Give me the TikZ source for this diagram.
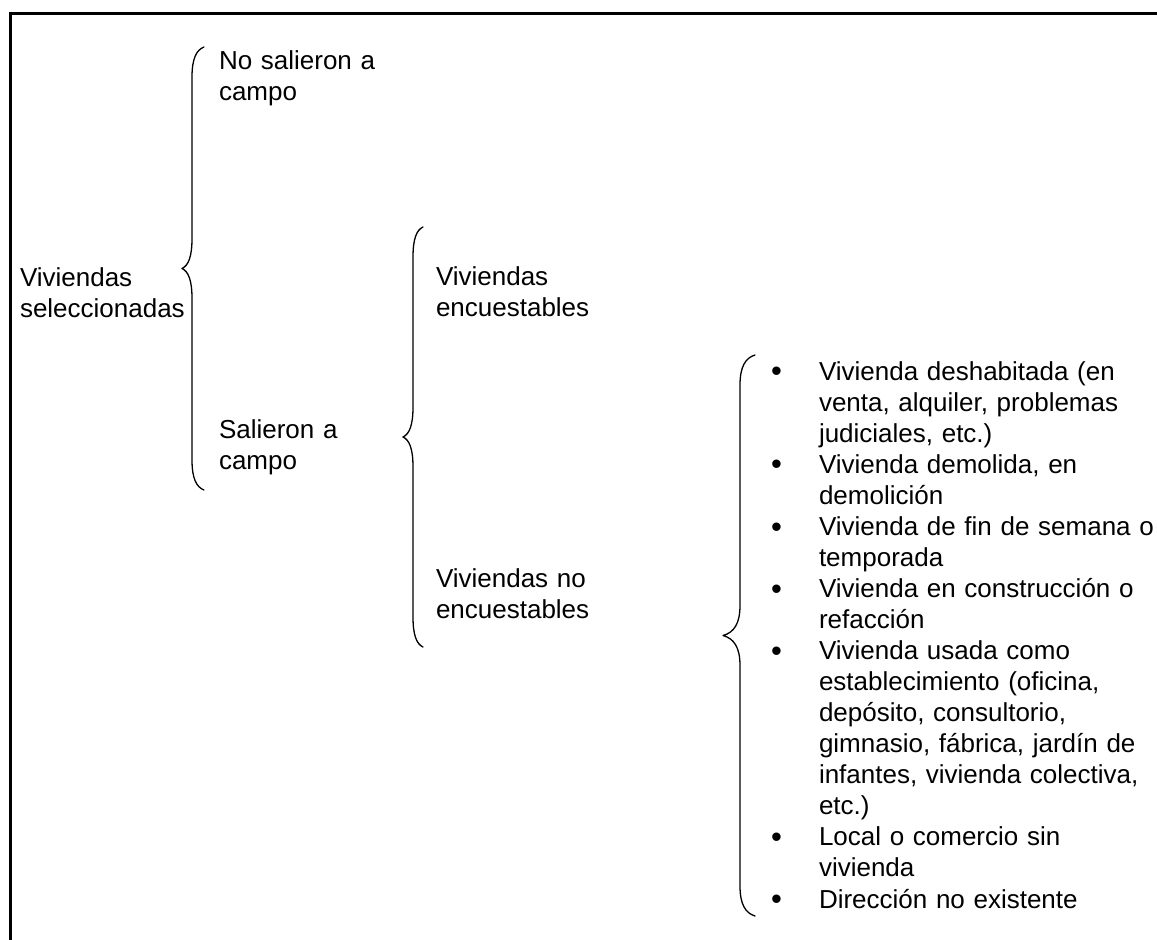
\documentclass[tikz,border=0pt]{standalone}
\usepackage{fontspec}
\setmainfont{Liberation Sans}
\newcommand\mybul{\leavevmode\llap{\makebox[48pt][l]{\raisebox{-1.8pt}{\fontsize{31}{31}\selectfont •}}}}
% #1 x of ends, #2 x of vertical stroke, #3 x of cusp, #4 y top, #5 y bottom
\newcommand\mybrace[5]{%
  \pgfmathsetmacro\bym{(#4+#5)/2}%
  \pgfmathsetmacro\bxa{#2+0.35*(#1-#2)}%
  \pgfmathsetmacro\bxb{#2-0.35*(#2-#3)}%
  \draw[bracestyle] (#1,#4) .. controls (\bxa,#4+3) and (#2,#4+12) .. (#2,#4+30)
    -- (#2,\bym-30) .. controls (#2,\bym-12) and (\bxb,\bym-3) .. (#3,\bym)
    .. controls (\bxb,\bym+3) and (#2,\bym+12) .. (#2,\bym+30)
    -- (#2,#5-30) .. controls (#2,#5-12) and (\bxa,#5-3) .. (#1,#5);%
}
\begin{document}
\begin{tikzpicture}[x=1pt,y=-1pt,
  txt/.style={inner sep=0pt, outer sep=0pt, anchor=base west, align=left,
    text width=#1, font=\fontsize{26}{31.06}\selectfont},
  bracestyle/.style={line width=1.3pt, line cap=round, line join=round},
  frame/.style={line width=3pt, line join=miter}]
\useasboundingbox (0,0) rectangle (1157,940);
\fill[white] (0,0) rectangle (1157,940);
\draw[frame] (10.3,940) -- (10.3,13.7) -- (1157,13.7);

\node[txt=170pt] (sel) at (20,286) {Viviendas\\seleccionadas};
\node[txt=190pt] (nosal) at (219,69) {No salieron a\\campo};
\node[txt=190pt] (sal) at (219,438) {Salieron a\\campo};
\node[txt=200pt] (enc) at (436,285) {Viviendas\\encuestables};
\node[txt=200pt] (noenc) at (436,587) {Viviendas no\\encuestables};
\node[txt=345pt] (list) at (819,380) {%
\mybul Vivienda deshabitada (en\\
venta, alquiler, problemas\\
judiciales, etc.)\\
\mybul Vivienda demolida, en\\
demolición\\
\mybul Vivienda de fin de semana o\\
temporada\\
\mybul Vivienda en construcción o\\
refacción\\
\mybul Vivienda usada como\\
establecimiento (oficina,\\
depósito, consultorio,\\
gimnasio, fábrica, jardín de\\
infantes, vivienda colectiva,\\
etc.)\\
\mybul Local o comercio sin\\
vivienda\\
\mybul Dirección no existente};

\mybrace{204}{192}{182}{47}{490}
\mybrace{423}{413}{403}{227}{647}
\mybrace{755}{740}{723}{355}{916}
\end{tikzpicture}
\end{document}
